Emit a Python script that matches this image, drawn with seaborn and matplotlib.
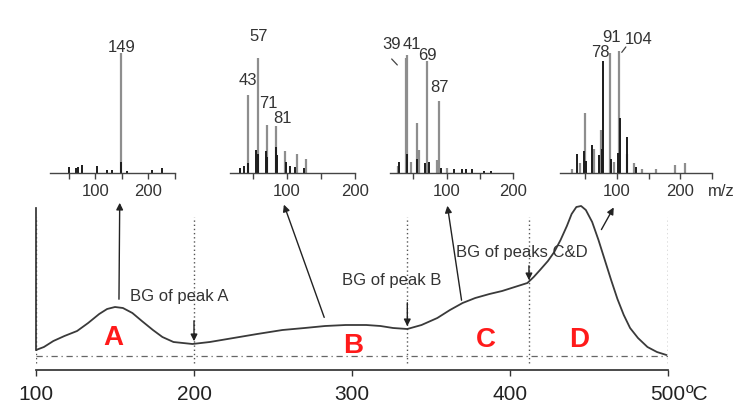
"""
Termograma con los espectros de masas de cada pico (A, B, C, D).
Guarda out.png (736x413).
"""

import matplotlib.pyplot as plt
import seaborn as sns


# curva principal: senal frente a temperatura
TEMP = [100, 105, 111, 118, 126, 133, 140, 145, 150, 155,
        161, 167, 174, 180, 187, 193, 199, 210, 225, 240,
        256, 270, 283, 296, 309, 318, 326, 335, 344, 354,
        362, 370, 378, 387, 395, 403, 411, 415, 419, 424,
        428, 432, 436, 439, 442, 445, 448, 452, 456, 460,
        464, 468, 472, 476, 481, 487, 493, 499]
SENAL = [6, 9, 15, 20, 25, 33, 42, 47, 49, 48,
         43, 35, 26, 19, 14, 13, 12, 14, 18, 22,
         26, 28, 30, 31, 31, 30, 28, 27, 31, 38,
         46, 53, 58, 62, 65, 69, 73, 79, 86, 95,
         104, 116, 130, 142, 149, 150, 146, 134, 116, 96,
         76, 57, 41, 28, 18, 9, 4, 1]

LIMITES = [100, 200, 335, 412, 500]
TICKS_T = [100, 200, 300, 400, 500]
PICOS = ['A', 'B', 'C', 'D']
PICOS_T = [149, 301, 385, 444]
PICOS_Y = [18, 10, 16, 16]

# espectros de masas (m/z, intensidad relativa); gris = muestra, negro = fondo
MZ_A_GRIS = [149]
INT_A_GRIS = [100]
MZ_A_NEGRO = [50, 64, 68, 75, 103, 122, 131, 149, 160, 207, 226]
INT_A_NEGRO = [5, 4, 5, 7, 6, 2.5, 2.5, 9, 2, 2.5, 4]

MZ_B_GRIS = [43, 57, 71, 84, 97, 114, 128]
INT_B_GRIS = [65, 96, 40, 39, 18, 16, 12]
MZ_B_NEGRO = [31, 37, 43, 55, 57, 69, 71, 83, 85, 98, 104, 112, 125]
INT_B_NEGRO = [4, 6, 8, 19, 16, 18, 13, 22, 15, 9, 6, 5, 4]

MZ_C_GRIS = [27, 39, 41, 47, 56, 58, 70, 86, 88, 100]
INT_C_GRIS = [6, 96, 98, 9, 42, 19, 93, 11, 60, 4]
MZ_C_NEGRO = [29, 41, 55, 67, 74, 92, 112, 124, 130, 139, 157, 167]
INT_C_NEGRO = [9, 16, 12, 8, 9, 4, 3, 3, 3, 3, 2, 2]

MZ_D_GRIS = [29, 42, 50, 64, 74, 89, 96, 103, 115, 127, 140, 162, 191, 208]
INT_D_GRIS = [3, 8, 50, 20, 36, 100, 9, 102, 16, 8, 3, 3, 7, 8]
MZ_D_NEGRO = [37, 48, 51, 60, 72, 76, 78, 91, 102, 104, 115, 130]
INT_D_NEGRO = [16, 18, 10, 23, 15, 20, 93, 12, 17, 46, 30, 5]

W, H = 736, 413
GRIS = '#8e8e8e'
NEGRO = '#1c1c1c'
TEXTO = '#333333'


def ejes_px(fig, izq, arriba, der, abajo):
    ax = fig.add_axes([izq / W, 1 - abajo / H, (der - izq) / W, (abajo - arriba) / H])
    ax.patch.set_alpha(0)
    return ax


def espectro(fig, caja, xlim, ticks, etiq_ticks, gris, negro, etiquetas, guias=()):
    ax = ejes_px(fig, *caja)
    ax.vlines(gris[0], 0, gris[1], colors=GRIS, lw=1.6)
    ax.vlines(negro[0], 0, negro[1], colors=NEGRO, lw=1.4)
    ax.set_xlim(*xlim)
    ax.set_ylim(0, 108.3)
    ax.set_xticks(ticks)
    ax.set_xticklabels(etiq_ticks)
    ax.set_yticks([])
    sns.despine(ax=ax, left=True)
    ax.spines['bottom'].set_color('#444444')
    ax.spines['bottom'].set_linewidth(1)
    ax.tick_params(axis='x', bottom=True, direction='out', length=4, width=1,
                   pad=4, labelsize=12, color='#444444', labelcolor=TEXTO)
    for texto, x, y in etiquetas:
        ax.text(x, y, texto, ha='center', va='center', fontsize=12,
                color=TEXTO, clip_on=False)
    for xs, ys in guias:
        ax.plot(xs, ys, color='#444444', lw=0.9, clip_on=False)
    return ax


def main():
    sns.set_theme(style='white')
    plt.rcParams['font.family'] = ['Liberation Sans', 'DejaVu Sans']

    fig = plt.figure(figsize=(W / 100, H / 100), dpi=100)

    # --- termograma ---
    ax = ejes_px(fig, 36, 200, 668, 370)
    ax.vlines(LIMITES, -7, 139, colors='#555555', linestyles=(0, (1, 2)), lw=1)
    ax.hlines(0, 100, 500, colors='#666666', linestyles=(0, (5, 3, 1, 3)), lw=0.9)
    sns.lineplot(x=TEMP, y=SENAL, ax=ax, color='#3a3a3a', lw=1.3)
    ax.set_xlim(100, 500)
    ax.set_ylim(-14, 156)
    ax.set_xticks(TICKS_T)
    ax.set_xticklabels([str(t) for t in TICKS_T])
    ax.set_yticks([])
    ax.spines['top'].set_visible(False)
    ax.spines['right'].set_visible(False)
    ax.spines['left'].set_bounds(6, 148)
    ax.spines['left'].set_color('#333333')
    ax.spines['bottom'].set_color('#333333')
    ax.tick_params(axis='x', bottom=True, direction='out', length=4, width=1,
                   pad=7, labelsize=15, color='#333333', labelcolor='#222222')
    ax.annotate('ºC', xy=(500, 0), xycoords=('data', 'axes fraction'),
                xytext=(13, -11), textcoords='offset points',
                ha='left', va='top', fontsize=15, color='#222222')

    for letra, t, y in zip(PICOS, PICOS_T, PICOS_Y):
        ax.text(t, y, letra, ha='center', va='center', fontsize=20,
                weight='bold', color='#ff1a1a')

    flecha = dict(arrowstyle='-|>', color='#222222', lw=1, mutation_scale=10)
    # fondos (BG)
    ax.annotate('', xy=(200, 12), xytext=(200, 38), arrowprops=flecha)
    ax.text(159.5, 59, 'BG of peak A', ha='left', va='center', fontsize=12, color=TEXTO)
    ax.annotate('', xy=(335, 27), xytext=(335, 56), arrowprops=flecha)
    ax.text(325, 76, 'BG of peak B', ha='center', va='center', fontsize=12, color=TEXTO)
    ax.annotate('', xy=(412, 73), xytext=(412, 93), arrowprops=flecha)
    ax.text(365.8, 103, 'BG of peaks C&D', ha='left', va='center', fontsize=12, color=TEXTO)

    # flechas hacia los espectros
    for ini, fin in [((152.5, 54), (153, 156)), ((283, 36), (256.3, 154)),
                     ((369.6, 53), (360.1, 153)), ((457, 124), (466.5, 151))]:
        ax.annotate('', xy=fin, xytext=ini, arrowprops=flecha, annotation_clip=False)

    # --- espectros ---
    espectro(fig, (50, 43, 175, 173), (15, 250), [50, 100, 150, 200, 250],
             ['', '100', '', '200', ''],
             (MZ_A_GRIS, INT_A_GRIS), (MZ_A_NEGRO, INT_A_NEGRO),
             [('149', 150, 104.6)])
    espectro(fig, (230, 43, 355, 173), (16, 200), [50, 100, 150, 200],
             ['', '100', '', '200'],
             (MZ_B_GRIS, INT_B_GRIS), (MZ_B_NEGRO, INT_B_NEGRO),
             [('57', 58.7, 114), ('43', 42.5, 77), ('71', 72.7, 57.5), ('81', 92.6, 45)])
    espectro(fig, (390, 43, 513, 173), (15, 200), [50, 100, 150, 200],
             ['', '100', '', '200'],
             (MZ_C_GRIS, INT_C_GRIS), (MZ_C_NEGRO, INT_C_NEGRO),
             [('39', 17.3, 107), ('41', 48, 107), ('69', 72, 98), ('87', 90, 71)],
             guias=[([17.5, 26], [95, 90])])
    ax4 = espectro(fig, (560, 43, 712, 173), (10, 250), [50, 100, 150, 200, 250],
                   ['', '100', '', '200', ''],
                   (MZ_D_GRIS, INT_D_GRIS), (MZ_D_NEGRO, INT_D_NEGRO),
                   [('78', 73, 100), ('91', 92, 113), ('104', 134, 111)],
                   guias=[([114, 107.5], [105, 100.5])])
    ax4.annotate('m/z', xy=(200, 0), xycoords=('data', 'axes fraction'),
                 xytext=(20, -8), textcoords='offset points',
                 ha='left', va='top', fontsize=12, color=TEXTO)

    fig.savefig('out.png', dpi=100)
    plt.close(fig)


if __name__ == '__main__':
    main()
